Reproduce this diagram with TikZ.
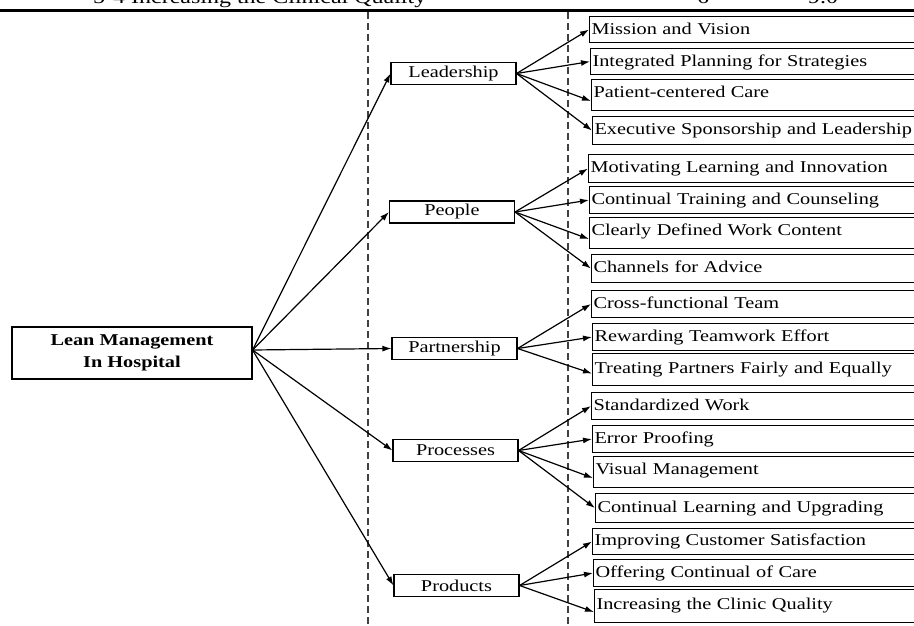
\documentclass[tikz,border=0pt]{standalone}
\usepackage{fontspec}
\setmainfont{Liberation Serif}[FakeStretch=1.23]
\usetikzlibrary{arrows.meta}
\begin{document}
\begin{tikzpicture}[x=1pt,y=-1pt,
  font=\fontsize{16.5}{19}\selectfont,
  cat/.style={draw, line width=1.1pt, minimum width=125pt, minimum height=22pt, inner sep=0pt},
  leaf/.style={draw, line width=1.1pt, anchor=north west, inner xsep=2pt, inner ysep=0pt, align=left, text height=18pt},
  arr/.style={line width=1.2pt, -{Latex[length=9pt,width=6pt]}},
  sep/.style={dash pattern=on 7pt off 4pt, line width=1.1pt, draw=black!75}]
\useasboundingbox (0,0) rectangle (914,626);
\clip (0,0) rectangle (914,626);
% cut-off header row
\node[anchor=base west, inner sep=0pt, font=\fontsize{19.5}{20}\selectfont] (hdr) at (93,4) {5-4 Increasing the Clinical Quality};
\node[anchor=base, inner sep=0pt, font=\fontsize{19.5}{20}\selectfont] (hsix) at (703,4) {6};
\node[anchor=base, inner sep=0pt, font=\fontsize{19.5}{20}\selectfont] (hnine) at (823,4) {9.0};
\draw[line width=2.5pt] (0,10.5) -- (914,10.5);
% dashed separators
\draw[sep] (368,12) -- (368,626);
\draw[sep] (568,12) -- (568,626);
% root
\node[draw, line width=1.1pt, minimum width=240pt, minimum height=52pt, inner sep=0pt, align=center,
  font=\bfseries\fontsize{16.5}{22.5}\selectfont] (lean) at (132,353) {Lean Management\\In Hospital};
% categories
\node[cat] (lead) at (453.5,73.5) {Leadership};
\node[cat] (peop) at (452,212) {People};
\node[cat] (part) at (454.5,348.5) {Partnership};
\node[cat] (proc) at (455.5,450.5) {Processes};
\node[cat] (prod) at (456.5,585.5) {Products};
% leaves
\node[leaf, text width=337pt, text depth=8pt] (l1) at (589,16) {Mission and Vision};
\node[leaf, text width=336pt, text depth=8pt] (l2) at (590,48) {Integrated Planning for Strategies};
\node[leaf, text width=335pt, text depth=13pt] (l3) at (591,79) {Patient-centered Care};
\node[leaf, text width=334pt, text depth=10pt] (l4) at (592,116) {Executive Sponsorship and Leadership};
\node[leaf, text width=338pt, text depth=10pt] (l5) at (588,154) {Motivating Learning and Innovation};
\node[leaf, text width=337pt, text depth=9pt] (l6) at (589,186) {Continual Training and Counseling};
\node[leaf, text width=337pt, text depth=13pt] (l7) at (589,217) {Clearly Defined Work Content};
\node[leaf, text width=335pt, text depth=10pt] (l8) at (591,254) {Channels for Advice};
\node[leaf, text width=335pt, text depth=9pt] (l9) at (591,290) {Cross-functional Team};
\node[leaf, text width=334pt, text depth=9pt] (l10) at (592,323) {Rewarding Teamwork Effort};
\node[leaf, text width=334pt, text height=20pt, text depth=12pt] (l11) at (592,353) {Treating Partners Fairly and Equally};
\node[leaf, text width=335pt, text depth=9pt] (l12) at (591,392) {Standardized Work};
\node[leaf, text width=334pt, text depth=9pt] (l13) at (592,425) {Error Proofing};
\node[leaf, text width=333pt, text depth=13pt] (l14) at (593,456) {Visual Management};
\node[leaf, text width=331pt, text height=19pt, text depth=10pt] (l15) at (595,493) {Continual Learning and Upgrading};
\node[leaf, text width=334pt, text height=17pt, text depth=9pt] (l16) at (592,528) {Improving Customer Satisfaction};
\node[leaf, text width=333pt, text depth=9pt] (l17) at (593,559) {Offering Continual of Care};
\node[leaf, text width=332pt, text height=20pt, text depth=13pt] (l18) at (594,589) {Increasing the Clinic Quality};
% root to categories
\foreach \c in {lead,peop,part,proc,prod}
  \draw[arr] ([yshift=3pt]lean.east) -- (\c.west);
% categories to leaves
\draw[arr] (lead.east) -- (l1.west);
\draw[arr] (lead.east) -- (l2.west);
\draw[arr] (lead.east) -- ([yshift=-6pt]l3.west);
\draw[arr] (lead.east) -- (l4.west);
\draw[arr] (peop.east) -- (l5.west);
\draw[arr] (peop.east) -- (l6.west);
\draw[arr] (peop.east) -- ([yshift=-6pt]l7.west);
\draw[arr] (peop.east) -- (l8.west);
\draw[arr] (part.east) -- (l9.west);
\draw[arr] (part.east) -- (l10.west);
\draw[arr] (part.east) -- ([yshift=-4pt]l11.west);
\draw[arr] (proc.east) -- (l12.west);
\draw[arr] (proc.east) -- (l13.west);
\draw[arr] (proc.east) -- ([yshift=-6pt]l14.west);
\draw[arr] (proc.east) -- (l15.west);
\draw[arr] (prod.east) -- (l16.west);
\draw[arr] (prod.east) -- (l17.west);
\draw[arr] (prod.east) -- ([yshift=-6pt]l18.west);
\end{tikzpicture}
\end{document}
